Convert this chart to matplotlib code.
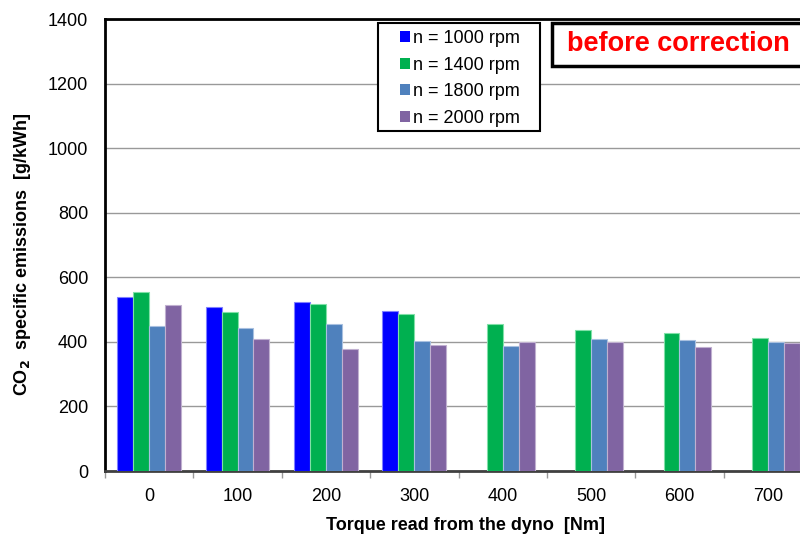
import numpy as np
import matplotlib
matplotlib.use("Agg")
import matplotlib.pyplot as plt
from matplotlib.patches import Rectangle

# data
torque = ["0", "100", "200", "300", "400", "500", "600", "700"]
rpm_1000 = [538, 508, 522, 495, np.nan, np.nan, np.nan, np.nan]
rpm_1400 = [554, 491, 516, 486, 454, 438, 427, 412]
rpm_1800 = [448, 442, 455, 402, 386, 408, 406, 400]
rpm_2000 = [513, 410, 377, 389, 399, 399, 384, 396]
labels = ["n = 1000 rpm", "n = 1400 rpm", "n = 1800 rpm", "n = 2000 rpm"]
colors = ["#0000FF", "#00B050", "#4F81BD", "#8064A2"]
edges = ["#8080FF", "#80E0A8", "#A8C0E0", "#C0B0D0"]

plt.rcParams["font.family"] = ["Liberation Sans", "DejaVu Sans"]

W, H = 800, 538
AX_L, AX_R, AX_T, AX_B = 105, 812, 19, 471
fig = plt.figure(figsize=(8, 5.38), dpi=100)
ax = fig.add_axes([AX_L / W, 1 - AX_B / H, (AX_R - AX_L) / W, (AX_B - AX_T) / H])

x = np.arange(len(torque))
bw = 0.18
series = [rpm_1000, rpm_1400, rpm_1800, rpm_2000]
for i, vals in enumerate(series):
    ax.bar(x + (i - 1.5) * bw, vals, bw, color=colors[i],
           edgecolor=edges[i], linewidth=0.8, zorder=3)

ax.set_xlim(-0.5, len(torque) - 0.5)
ax.set_ylim(0, 1400)
ax.set_yticks(np.arange(0, 1401, 200))
ax.yaxis.grid(True, color="#999999", linewidth=1.0, zorder=0)
ax.tick_params(axis="y", length=0, pad=12, labelsize=13)

# ticks at group edges, labels at group centres
ax.set_xticks(np.arange(-0.5, len(torque), 1.0))
ax.set_xticklabels([])
ax.tick_params(axis="x", which="major", length=5, width=1, color="#999999", direction="out")
ax.set_xticks(x, torque, minor=True)
ax.tick_params(axis="x", which="minor", length=0, pad=12, labelsize=13)

for s in ["left", "top"]:
    ax.spines[s].set_color("black")
    ax.spines[s].set_linewidth(2)
ax.spines["bottom"].set_color("#404040")
ax.spines["bottom"].set_linewidth(2)
ax.spines["right"].set_visible(False)

ax.set_ylabel("CO$_\\mathbf{2}$  specific emissions  [g/kWh]", fontsize=13, fontweight="bold")
ax.yaxis.set_label_coords((33 - AX_L) / (AX_R - AX_L), (AX_B - 254) / (AX_B - AX_T))
ax.set_xlabel("Torque read from the dyno  [Nm]", fontsize=13, fontweight="bold")
ax.xaxis.set_label_coords((465 - AX_L) / (AX_R - AX_L), -(517 - AX_B) / (AX_B - AX_T))

# legend entries without frame, box drawn separately (wider right margin than mpl gives)
proxies = [Rectangle((0, 0), 1, 1, facecolor=c, edgecolor="none") for c in colors]
leg = fig.legend(proxies, labels, loc="upper left",
                 bbox_to_anchor=(400 / W, 1 - 30 / H), fontsize=13, frameon=False,
                 handlelength=0.55, handleheight=0.55, handletextpad=0.15,
                 labelspacing=0.53, borderpad=0, borderaxespad=0)
leg.set_zorder(6)
fig.patches.append(Rectangle((378 / W, 1 - 131 / H), (540 - 378) / W, (131 - 23) / H,
                             transform=fig.transFigure, facecolor="white",
                             edgecolor="black", linewidth=1.5, zorder=4))

fig.patches.append(Rectangle((552 / W, 1 - 66 / H), (830 - 552) / W, 43 / H,
                             transform=fig.transFigure, fill=True, facecolor="white",
                             edgecolor="black", linewidth=2.5, zorder=5))
fig.text(678 / W, 1 - 44 / H, "before correction", color="#FF0000", fontsize=19.5,
         fontweight="bold", ha="center", va="center", zorder=6)

fig.savefig("out.png", dpi=100)
